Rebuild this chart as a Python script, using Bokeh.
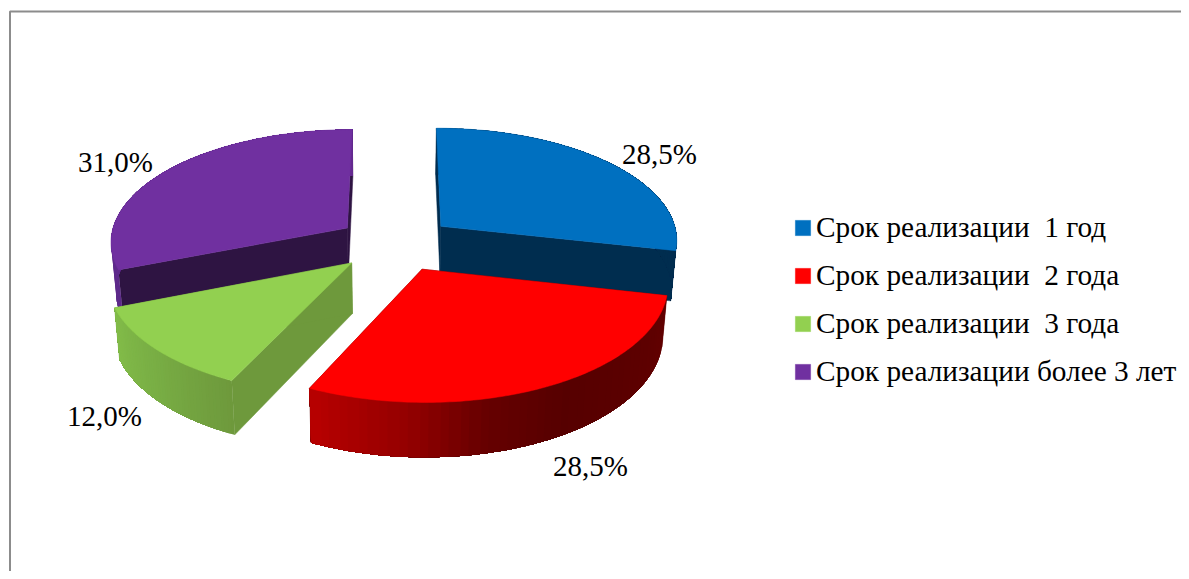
import numpy as np
from bokeh.plotting import figure
from bokeh.models import Legend, LegendItem
from bokeh.core.properties import value
from bokeh.embed import file_html
from bokeh.resources import INLINE

categories = ["Срок реализации  1 год", "Срок реализации  2 года",
              "Срок реализации  3 года", "Срок реализации более 3 лет"]
shares = [28.5, 28.5, 12.0, 31.0]
share_labels = ["28,5%", "28,5%", "12,0%", "31,0%"]
top_colors = ["#0070c0", "#ff0000", "#92d050", "#7030a0"]
cut_colors = ["#002d4f", "#5a0000", "#6e993c", "#2e1442"]
wall_stops = [
    [(0, "#002d4f"), (1, "#002d4f")],
    [(0, "#620000"), (.45, "#560000"), (.63, "#650000"), (.8, "#950000"), (1, "#b80000")],
    [(0, "#6e993c"), (.5, "#78ad44"), (1, "#82bc49")],
    [(0, "#5d2a8a"), (1, "#64298f")],
]
label_x = [659, 590, 104, 115]
label_y = [153, 465, 415, 161]

# projection of the exploded disk (page-pixel data space)
CX, CY, RX, RY, K, H, EXPLODE, SHRINK = 395, 243, 238, 112.5, .11, 50, .248, .018
W, HT = 1181, 571
FONT = "Liberation Serif"


def hex2rgb(c):
    return np.array([int(c[i:i + 2], 16) for i in (1, 3, 5)], float)


def ramp(stops, t):
    ts = [s[0] for s in stops]
    cols = np.array([hex2rgb(s[1]) for s in stops])
    rgb = [np.interp(t, ts, cols[:, i]) for i in range(3)]
    return "#%02x%02x%02x" % tuple(int(round(v)) for v in rgb)


def project(X, Y, bottom=False):
    s = 1 / (1 + K * Y)
    f = 1 - SHRINK if bottom else 1
    x = CX + RX * X * s * f
    y = CY - RY * Y * s * f + (H * s if bottom else 0)
    return x, y


p = figure(width=W, height=HT, x_range=(0, W), y_range=(HT, 0),
           output_backend="svg", toolbar_location=None, outline_line_color=None,
           min_border=0, background_fill_color="white")
p.axis.visible = False
p.grid.visible = False

# chart frame: only the left and top edges lie inside the picture
p.line([9.5, 9.5, W], [HT, 11, 11], line_color="#8c8c8c", line_width=2)

fr = np.array(shares) / sum(shares)
edges = np.concatenate([[0], np.cumsum(fr)]) * 2 * np.pi
tops = {}
STRIPS = 48
for i in [3, 0, 2, 1]:  # back to front
    a0, a1 = edges[i], edges[i + 1]
    m = (a0 + a1) / 2
    ox, oy = EXPLODE * np.sin(m), EXPLODE * np.cos(m)
    th = np.linspace(a0, a1, 120)
    X, Y = ox + np.sin(th), oy + np.cos(th)
    tx, ty = project(X, Y)
    bx, by = project(X, Y, True)
    ax, ay = project(ox, oy)
    abx, aby = project(ox, oy, True)
    # cut faces
    for j in (0, -1):
        p.patch([ax, tx[j], bx[j], abx], [ay, ty[j], by[j], aby],
                fill_color=cut_colors[i], line_color=cut_colors[i], line_width=.5)
    # outer wall: overlapping bands carrying the shading, so no background shows between them
    cuts = np.linspace(0, len(th) - 1, STRIPS + 1).astype(int)
    xs, ys, cs = [], [], []
    for s in range(STRIPS):
        k = np.arange(cuts[s], len(th))
        xs.append(np.r_[tx[k], bx[k][::-1]])
        ys.append(np.r_[ty[k], by[k][::-1]])
        cs.append(ramp(wall_stops[i], (s + .5) / STRIPS))
    p.patches(xs, ys, fill_color=cs, line_color=None)
    # top face
    tops[i] = p.patch(np.r_[ax, tx], np.r_[ay, ty], fill_color=top_colors[i],
                      line_color=top_colors[i], line_width=.5)

p.text(label_x, label_y, text=share_labels, text_font=value(FONT),
       text_font_size="29px", text_color="black", text_align="center",
       text_baseline="middle")

legend = Legend(items=[LegendItem(label=value(c), renderers=[tops[i]])
                       for i, c in enumerate(categories)],
                location=(793, 183), orientation="vertical",
                padding=0, margin=0, spacing=15,
                glyph_width=19, glyph_height=19, label_standoff=4,
                label_text_font=FONT, label_text_font_size="29.3px",
                label_text_color="black", label_text_baseline="middle",
                background_fill_alpha=0, border_line_color=None)
p.add_layout(legend)

open("out.html", "w").write(file_html(p, INLINE))
